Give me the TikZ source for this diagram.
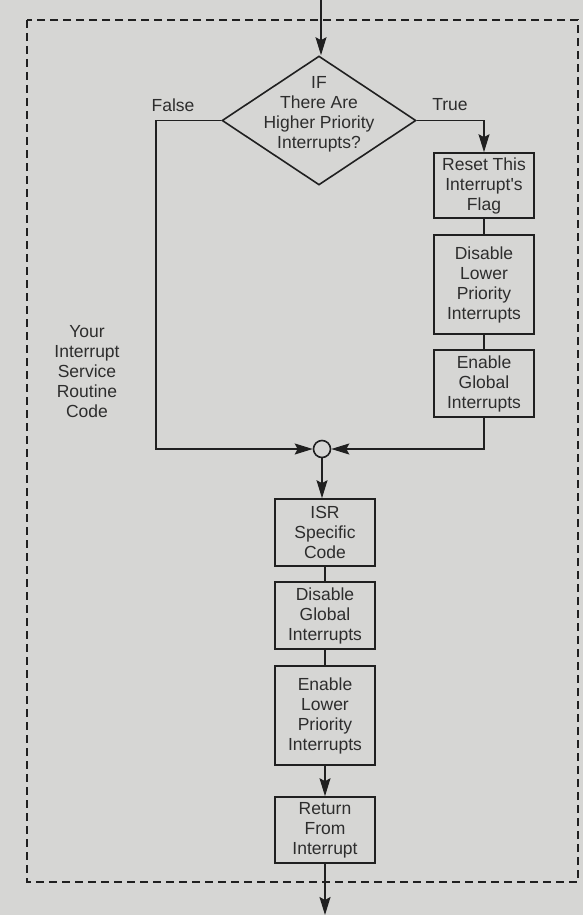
\documentclass[tikz,border=0pt]{standalone}
\usepackage{fontspec}
\setmainfont{Liberation Sans}[Ligatures=TeXOff]
\usetikzlibrary{shapes.geometric,arrows.meta}

\definecolor{paper}{RGB}{214,214,212}
\definecolor{ink}{RGB}{32,32,32}
\definecolor{textink}{RGB}{45,45,45}

\tikzset{
  every node/.style={font=\fontsize{17.5}{20}\selectfont, text=textink},
  stepbox/.style={draw=ink, line width=1.6pt, align=center, inner sep=0pt,
                  minimum width=100pt},
  decision/.style={diamond, draw=ink, line width=1.6pt, inner sep=0pt,
                   minimum width=194pt, minimum height=129pt},
  joint/.style={circle, draw=ink, line width=1.6pt, inner sep=0pt,
                minimum size=17pt},
  wire/.style={draw=ink, line width=1.6pt},
  flow/.style={wire, -{Stealth[length=18pt,width=11pt,inset=3pt]}},
  frame/.style={draw=ink, line width=1.3pt, dash pattern=on 8pt off 5pt},
  caption/.style={align=center, inner sep=0pt}
}

\begin{document}
\begin{tikzpicture}[x=1pt, y=-1pt]
  % page and background
  \useasboundingbox (0,0) rectangle (583,915);
  \fill[paper] (0,0) rectangle (583,915);

  % dashed boundary of the service routine
  \draw[frame] (27,20) rectangle (578,882);

  % entry and exit points
  \coordinate (entry) at (321,0);
  \coordinate (exit) at (325,915);
  \coordinate (fleft) at (156,449);

  % decision
  \node[decision] (q) at (319,120.5) {};
  \node[caption] (qtext) at (319,114) {IF\\There Are\\Higher Priority\\Interrupts?};
  \node[caption] (false) at (173,105) {False};
  \node[caption] (true) at (450,105) {True};

  % true branch
  \node[stepbox, minimum height=65pt] (r1) at (484,185.5) {Reset This\\Interrupt's\\Flag};
  \node[stepbox, minimum height=99pt] (r2) at (484,284.5) {Disable\\Lower\\Priority\\Interrupts};
  \node[stepbox, minimum height=67pt] (r3) at (484,383.5) {Enable\\Global\\Interrupts};

  % merge point
  \node[joint] (j) at (322,449) {};

  % common part
  \node[stepbox, minimum height=67pt] (isr) at (325,532.5) {ISR\\Specific\\Code};
  \node[stepbox, minimum height=67pt] (dg) at (325,615.5) {Disable\\Global\\Interrupts};
  \node[stepbox, minimum height=99pt] (el) at (325,715.5) {Enable\\Lower\\Priority\\Interrupts};
  \node[stepbox, minimum height=66pt] (ret) at (325,830) {Return\\From\\Interrupt};

  % side note
  \node[caption] (note) at (87,371.5) {Your\\Interrupt\\Service\\Routine\\Code};

  % connectors
  \draw[flow] (entry) -- (entry |- q.north);
  \draw[flow] (q.east) -| (r1.north);
  \draw[wire] (r1) -- (r2);
  \draw[wire] (r2) -- (r3);
  \draw[flow] (r3.south) |- (j.east);
  \draw[flow] (q.west) -| (fleft) -- (j.west);
  \draw[flow] (j.south) -- (j.south |- isr.north);
  \draw[wire] (isr) -- (dg);
  \draw[wire] (dg) -- (el);
  \draw[flow] (el.south) -- (ret.north);
  \draw[flow] (ret.south) -- (exit);
\end{tikzpicture}
\end{document}
